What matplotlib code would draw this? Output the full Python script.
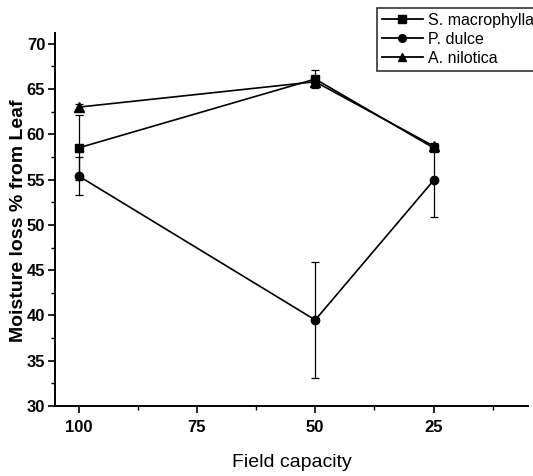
import matplotlib.pyplot as plt
from matplotlib.lines import Line2D
from matplotlib.ticker import MultipleLocator

# field capacity levels (%)
capacity = [100, 50, 25]

# moisture loss % from leaf, with error bars
s_macro = [58.5, 66.1, 58.5]
s_macro_err = [3.6, 1.0, 0.3]
p_dulce = [55.4, 39.5, 54.9]
p_dulce_err = [2.1, 6.4, 4.0]
a_nilo = [63.0, 65.8, 58.7]
a_nilo_err = [0.3, 0.4, 0.3]

labels = ['S. macrophylla', 'P. dulce', 'A. nilotica']
markers = ['s', 'o', '^']
msizes = [6, 6, 6.5]
zorders = [3, 2.5, 2.8]

plt.rcParams['font.family'] = ['Liberation Sans', 'DejaVu Sans']

fig = plt.figure(figsize=(5.33, 4.76), dpi=100)
ax = fig.add_axes([0.103, 0.147, 0.888, 0.784])

handles = []
for vals, err, m, ms, z, lab in zip([s_macro, p_dulce, a_nilo],
                                    [s_macro_err, p_dulce_err, a_nilo_err],
                                    markers, msizes, zorders, labels):
    ax.errorbar(capacity, vals, yerr=err, color='black', marker=m,
                markersize=ms, linewidth=1.2, elinewidth=0.9,
                capsize=3, capthick=0.9, zorder=z)
    handles.append(Line2D([], [], color='black', marker=m, markersize=5.5,
                          linewidth=1.3, label=lab))

ax.set_xlim(105, 5)
ax.set_ylim(30, 71.2)
ax.xaxis.set_major_locator(MultipleLocator(25))
ax.xaxis.set_minor_locator(MultipleLocator(12.5))
ax.yaxis.set_major_locator(MultipleLocator(5))
ax.yaxis.set_minor_locator(MultipleLocator(2.5))

for s in ['top', 'right']:
    ax.spines[s].set_visible(False)
for s in ['left', 'bottom']:
    ax.spines[s].set_linewidth(1.4)

ax.tick_params(which='major', direction='out', length=5, width=1.2,
               labelsize=12)
ax.tick_params(axis='x', which='major', pad=5)
ax.tick_params(axis='y', which='major', pad=2)
ax.tick_params(which='minor', direction='out', length=3, width=1.0)
for t in ax.get_xticklabels() + ax.get_yticklabels():
    t.set_fontweight('bold')

ax.set_xlabel('Field capacity', fontsize=14, labelpad=14)
ax.set_ylabel('Moisture loss % from Leaf', fontsize=14, fontweight='bold')
ax.yaxis.set_label_coords(-0.06, 0.496)

leg = ax.legend(handles=handles, loc='upper left',
                bbox_to_anchor=(0.707, 0.983),
                bbox_transform=fig.transFigure, fontsize=11.5,
                frameon=True, fancybox=False, edgecolor='black',
                handlelength=2.6, handletextpad=0.3, labelspacing=0.25,
                borderaxespad=0, borderpad=0.3)
leg.get_frame().set_linewidth(1.2)

fig.savefig('out.png', dpi=100)
